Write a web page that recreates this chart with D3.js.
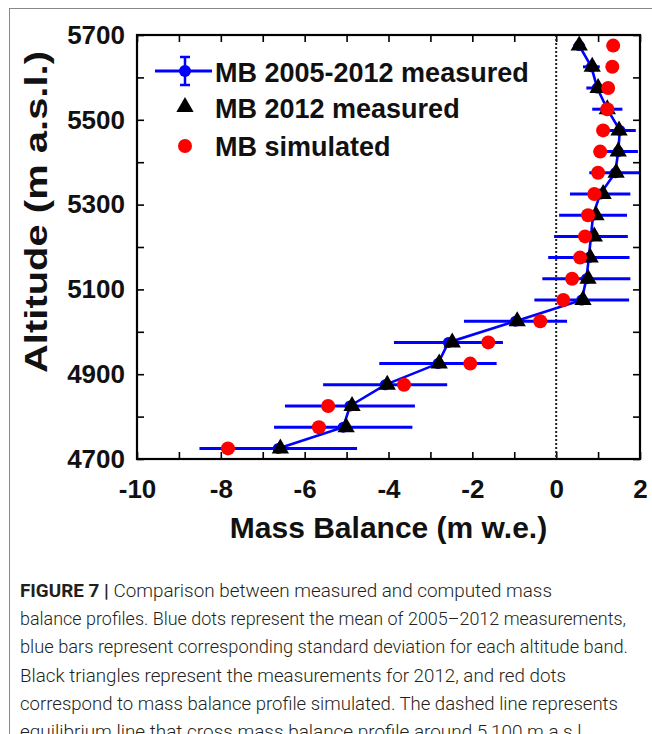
<!DOCTYPE html>
<html>
<head>
<meta charset="utf-8">
<script src="https://cdn.jsdelivr.net/npm/d3@7/dist/d3.min.js"></script>
<style>
  html, body { margin: 0; padding: 0; background: #fff; }
  svg { display: block; }
  .tick-label { font-family: "Liberation Sans", Arial, sans-serif; font-weight: bold; fill: #111; }
  .caption { font-family: "Roboto", "Liberation Sans", sans-serif; fill: #231f20; }
</style>
</head>
<body>
<svg id="fig" width="652" height="734"></svg>
<script>
// Altitude bands (m a.s.l.), band centres
const altitudes = [4725, 4775, 4825, 4875, 4925, 4975, 5025, 5075, 5125, 5175,
                   5225, 5275, 5325, 5375, 5425, 5475, 5525, 5575, 5625, 5675];
// Mean 2005-2012 measured mass balance (m w.e.) and its standard deviation
const mbMean = [-6.63, -5.08, -4.92, -4.08, -2.82, -2.57, -0.97, 0.61, 0.72, 0.78,
                0.83, 0.88, 1.05, 1.41, 1.48, 1.52, 1.22, 0.98, 0.84, 0.55];
const mbStd  = [1.88, 1.65, 1.55, 1.48, 1.40, 1.30, 1.23, 1.13, 1.05, 0.97,
                0.88, 0.81, 0.72, 0.62, 0.47, 0.38, 0.36, 0.26, 0.20, 0.14];
// 2012 measured mass balance (m w.e.)
const mb2012 = [-6.58, -5.01, -4.87, -4.03, -2.79, -2.48, -0.93, 0.64, 0.76, 0.81,
                0.91, 0.95, 1.12, 1.43, 1.48, 1.50, 1.22, 1.00, 0.86, 0.55];
// Simulated mass balance (m w.e.)
const mbSimulated = [-7.83, -5.66, -5.44, -3.63, -2.05, -1.62, -0.38, 0.17, 0.38, 0.57,
                     0.69, 0.76, 0.91, 1.00, 1.05, 1.12, 1.22, 1.24, 1.34, 1.36];

const xTickLabels = ["-10", "-8", "-6", "-4", "-2", "0", "2"];
const yTickLabels = ["4700", "4900", "5100", "5300", "5500", "5700"];
const legendLabels = ["MB 2005-2012 measured", "MB 2012 measured", "MB simulated"];
const captionBold = "FIGURE 7 |";
const captionLines = [
  " Comparison between measured and computed mass",
  "balance profiles. Blue dots represent the mean of 2005\u20132012 measurements,",
  "blue bars represent corresponding standard deviation for each altitude band.",
  "Black triangles represent the measurements for 2012, and red dots",
  "correspond to mass balance profile simulated. The dashed line represents",
  "equilibrium line that cross mass balance profile around 5,100 m a.s.l."
];
const captionWidths = [532, 606, 608, 546, 598, 566];

const svg = d3.select("#fig");
const blue = "#0000ff", red = "#ff0000";

// Figure frame
svg.append("line").attr("x1", 9).attr("x2", 652).attr("y1", 8.5).attr("y2", 8.5)
  .attr("stroke", "#888").attr("stroke-width", 1);
svg.append("line").attr("x1", 9.5).attr("x2", 9.5).attr("y1", 8).attr("y2", 734)
  .attr("stroke", "#888").attr("stroke-width", 1);

const plot = { left: 137, right: 640, top: 35, bottom: 459 };
const x = d3.scaleLinear().domain([-10, 2]).range([plot.left, plot.right]);
const y = d3.scaleLinear().domain([4700, 5700]).range([plot.bottom, plot.top]);

svg.append("clipPath").attr("id", "clip").append("rect")
  .attr("x", plot.left).attr("y", plot.top)
  .attr("width", plot.right - plot.left).attr("height", plot.bottom - plot.top);

// Axes with inward ticks on all four sides
const tickLen = 7;
function drawAxis(axis, transform) {
  const g = svg.append("g").attr("transform", transform).call(axis);
  g.select(".domain").remove();
  g.selectAll(".tick line").attr("stroke", "#000").attr("stroke-width", 1.6);
  g.selectAll(".tick text").attr("class", "tick-label").style("font-size", "26px");
  return g;
}
const xMinor = d3.range(-10, 2.001, 1);
const yMinor = d3.range(4700, 5700.1, 100);
const xFmt = d => xTickLabels.includes(String(d)) ? String(d) : "";
const yFmt = d => yTickLabels.includes(String(d)) ? String(d) : "";
drawAxis(d3.axisBottom(x).tickValues(xMinor).tickSize(-tickLen).tickPadding(16).tickFormat(xFmt),
  `translate(0,${plot.bottom})`)
  .selectAll(".tick text").attr("dy", "0.9em");
drawAxis(d3.axisTop(x).tickValues(xMinor).tickSize(-tickLen).tickFormat(""),
  `translate(0,${plot.top})`);
drawAxis(d3.axisLeft(y).tickValues(yMinor).tickSize(-tickLen).tickPadding(12).tickFormat(yFmt),
  `translate(${plot.left},0)`);
drawAxis(d3.axisRight(y).tickValues(yMinor).tickSize(-tickLen).tickFormat(""),
  `translate(${plot.right},0)`);

// Zero mass balance reference line
svg.append("line")
  .attr("x1", x(0)).attr("x2", x(0)).attr("y1", plot.top).attr("y2", plot.bottom)
  .attr("stroke", "#222").attr("stroke-width", 2).attr("stroke-dasharray", "2,2");

const data = altitudes.map((a, i) => ({
  alt: a, mean: mbMean[i], sd: mbStd[i], m12: mb2012[i], sim: mbSimulated[i]
}));

const marks = svg.append("g").attr("clip-path", "url(#clip)");

// Standard deviation bars
marks.selectAll(".err").data(data).join("line")
  .attr("x1", d => x(d.mean - d.sd)).attr("x2", d => x(d.mean + d.sd))
  .attr("y1", d => y(d.alt)).attr("y2", d => y(d.alt))
  .attr("stroke", blue).attr("stroke-width", 3);

// Mean profile line and dots
marks.append("path").datum(data)
  .attr("d", d3.line().x(d => x(d.mean)).y(d => y(d.alt)))
  .attr("fill", "none").attr("stroke", blue).attr("stroke-width", 2.6);
marks.selectAll(".mean").data(data).join("circle")
  .attr("cx", d => x(d.mean)).attr("cy", d => y(d.alt)).attr("r", 5.5)
  .attr("fill", blue);

// 2012 measurements
const tri = d3.symbol().type(d3.symbolTriangle).size(130);
marks.selectAll(".m12").data(data).join("path")
  .attr("d", tri).attr("transform", d => `translate(${x(d.m12)},${y(d.alt)})`)
  .attr("fill", "#000");

// Simulated profile
marks.selectAll(".sim").data(data).join("circle")
  .attr("cx", d => x(d.sim)).attr("cy", d => y(d.alt)).attr("r", 7)
  .attr("fill", red);

// Box
svg.append("rect")
  .attr("x", plot.left).attr("y", plot.top)
  .attr("width", plot.right - plot.left).attr("height", plot.bottom - plot.top)
  .attr("fill", "none").attr("stroke", "#000").attr("stroke-width", 2.2);

// Axis titles
svg.append("text").attr("class", "tick-label")
  .attr("x", (plot.left + plot.right) / 2).attr("y", 538)
  .attr("text-anchor", "middle").style("font-size", "30px")
  .text("Mass Balance (m w.e.)");
svg.append("text").attr("class", "tick-label")
  .attr("transform", `translate(47,212) rotate(-90)`)
  .attr("text-anchor", "middle").style("font-size", "31px")
  .attr("textLength", 322).attr("lengthAdjust", "spacingAndGlyphs")
  .text("Altitude (m a.s.l.)");

// Legend
const lg = svg.append("g");
const iconX = 185;
lg.append("line").attr("x1", 155).attr("x2", 212).attr("y1", 71).attr("y2", 71)
  .attr("stroke", blue).attr("stroke-width", 3);
lg.append("line").attr("x1", iconX).attr("x2", iconX).attr("y1", 57).attr("y2", 85)
  .attr("stroke", blue).attr("stroke-width", 2.5);
[57, 85].forEach(v => lg.append("line").attr("x1", iconX - 5).attr("x2", iconX + 5)
  .attr("y1", v).attr("y2", v).attr("stroke", blue).attr("stroke-width", 2.5));
lg.append("circle").attr("cx", iconX).attr("cy", 71).attr("r", 6).attr("fill", blue);
lg.append("path").attr("d", tri).attr("transform", `translate(${iconX},107)`).attr("fill", "#000");
lg.append("circle").attr("cx", iconX).attr("cy", 146).attr("r", 7).attr("fill", red);
const legendBaselines = [82, 118, 156];
legendLabels.forEach((t, i) => lg.append("text").attr("class", "tick-label")
  .attr("x", 215).attr("y", legendBaselines[i]).style("font-size", "27px").text(t));

// Caption
const cap = svg.append("g").attr("class", "caption").style("font-size", "19px");
const capY = 597, capStep = 28.2;
const first = cap.append("text").attr("x", 20).attr("y", capY)
  .attr("textLength", captionWidths[0]).attr("lengthAdjust", "spacingAndGlyphs");
first.append("tspan").attr("font-weight", "bold").text(captionBold);
first.append("tspan").attr("font-weight", 300).text(captionLines[0]);
captionLines.slice(1).forEach((t, i) => cap.append("text")
  .attr("x", 20).attr("y", capY + capStep * (i + 1))
  .attr("textLength", captionWidths[i + 1]).attr("lengthAdjust", "spacingAndGlyphs")
  .attr("font-weight", 300).text(t));
</script>
</body>
</html>
